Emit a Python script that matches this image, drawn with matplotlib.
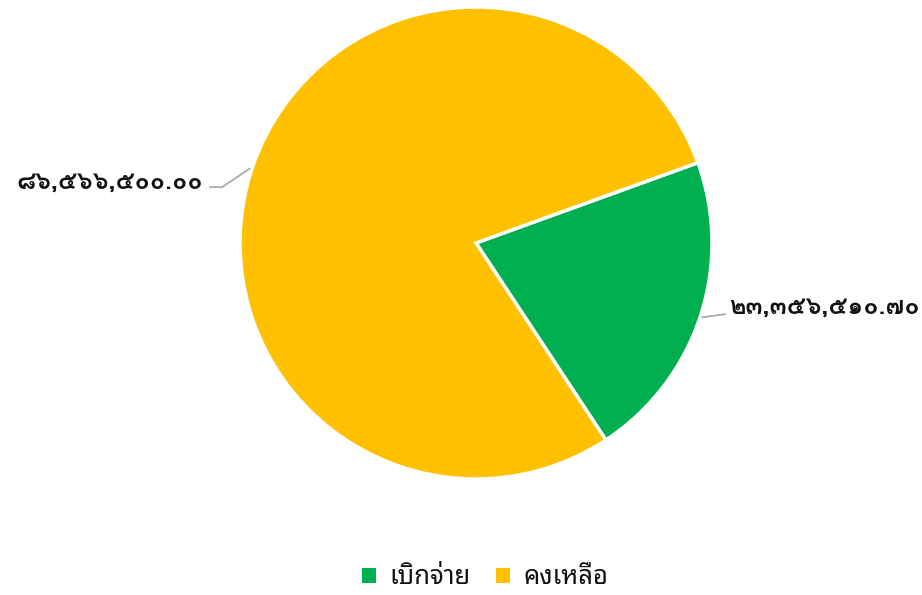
import numpy as np
import matplotlib
matplotlib.use('Agg')
import matplotlib.pyplot as plt
from matplotlib.patches import Patch

plt.rcParams['font.family'] = ['Noto Sans Thai Looped', 'DejaVu Sans']

# ข้อมูล
categories = ['เบิกจ่าย', 'คงเหลือ']
values = [23356510.70, 86566500.00]
value_labels = ['๒๓,๓๕๖,๕๑๐.๗๐', '๘๖,๕๖๖,๕๐๐.๐๐']
colors = ['#00b050', '#ffc000']

W, H = 922, 595
fig = plt.figure(figsize=(W / 100, H / 100), dpi=100)
cx, cy, r = 476, 243, 236
ax = fig.add_axes([(cx - r) / W, (H - cy - r) / H, 2 * r / W, 2 * r / H])

wedges, _ = ax.pie(values, colors=colors, startangle=19.9, counterclock=False,
                   radius=1, wedgeprops=dict(edgecolor='white', linewidth=2.5))
ax.set_xlim(-1, 1)
ax.set_ylim(-1, 1)
ax.set_aspect('equal')
ax.axis('off')

# ป้ายค่าพร้อมเส้นเชื่อม
for w, lab in zip(wedges, value_labels):
    mid = np.deg2rad((w.theta1 + w.theta2) / 2)
    x0, y0 = np.cos(mid), np.sin(mid)
    side = 1 if x0 > 0 else -1
    if side > 0:
        xs = [x0 + 0.01, 1.055]
        ys = [y0, y0 + 0.013]
        ty = ys[-1] + 0.03
        tx = 1.072
        ha = 'left'
    else:
        xs = [x0 - 0.01, -1.076, -1.127]
        ys = [y0, y0 - 0.078, y0 - 0.078]
        ty = ys[-1] + 0.022
        tx = -1.157
        ha = 'right'
    ax.plot(xs, ys, color='#a6a6a6', linewidth=1.2, clip_on=False)
    ax.text(tx, ty, lab, ha=ha, va='center', fontsize=18, fontweight='bold',
            family=['Loma', 'DejaVu Sans'],
            color='#111111', clip_on=False)

handles = [Patch(facecolor=c, edgecolor='none') for c in colors]
fig.legend(handles, categories, loc='center', bbox_to_anchor=(485 / W, 1 - 578 / H),
           ncol=2, frameon=False, fontsize=18.5, handlelength=0.55, handleheight=0.55,
           handletextpad=0.5, columnspacing=1.0, labelcolor='#111111')

fig.savefig('out.png', dpi=100)
